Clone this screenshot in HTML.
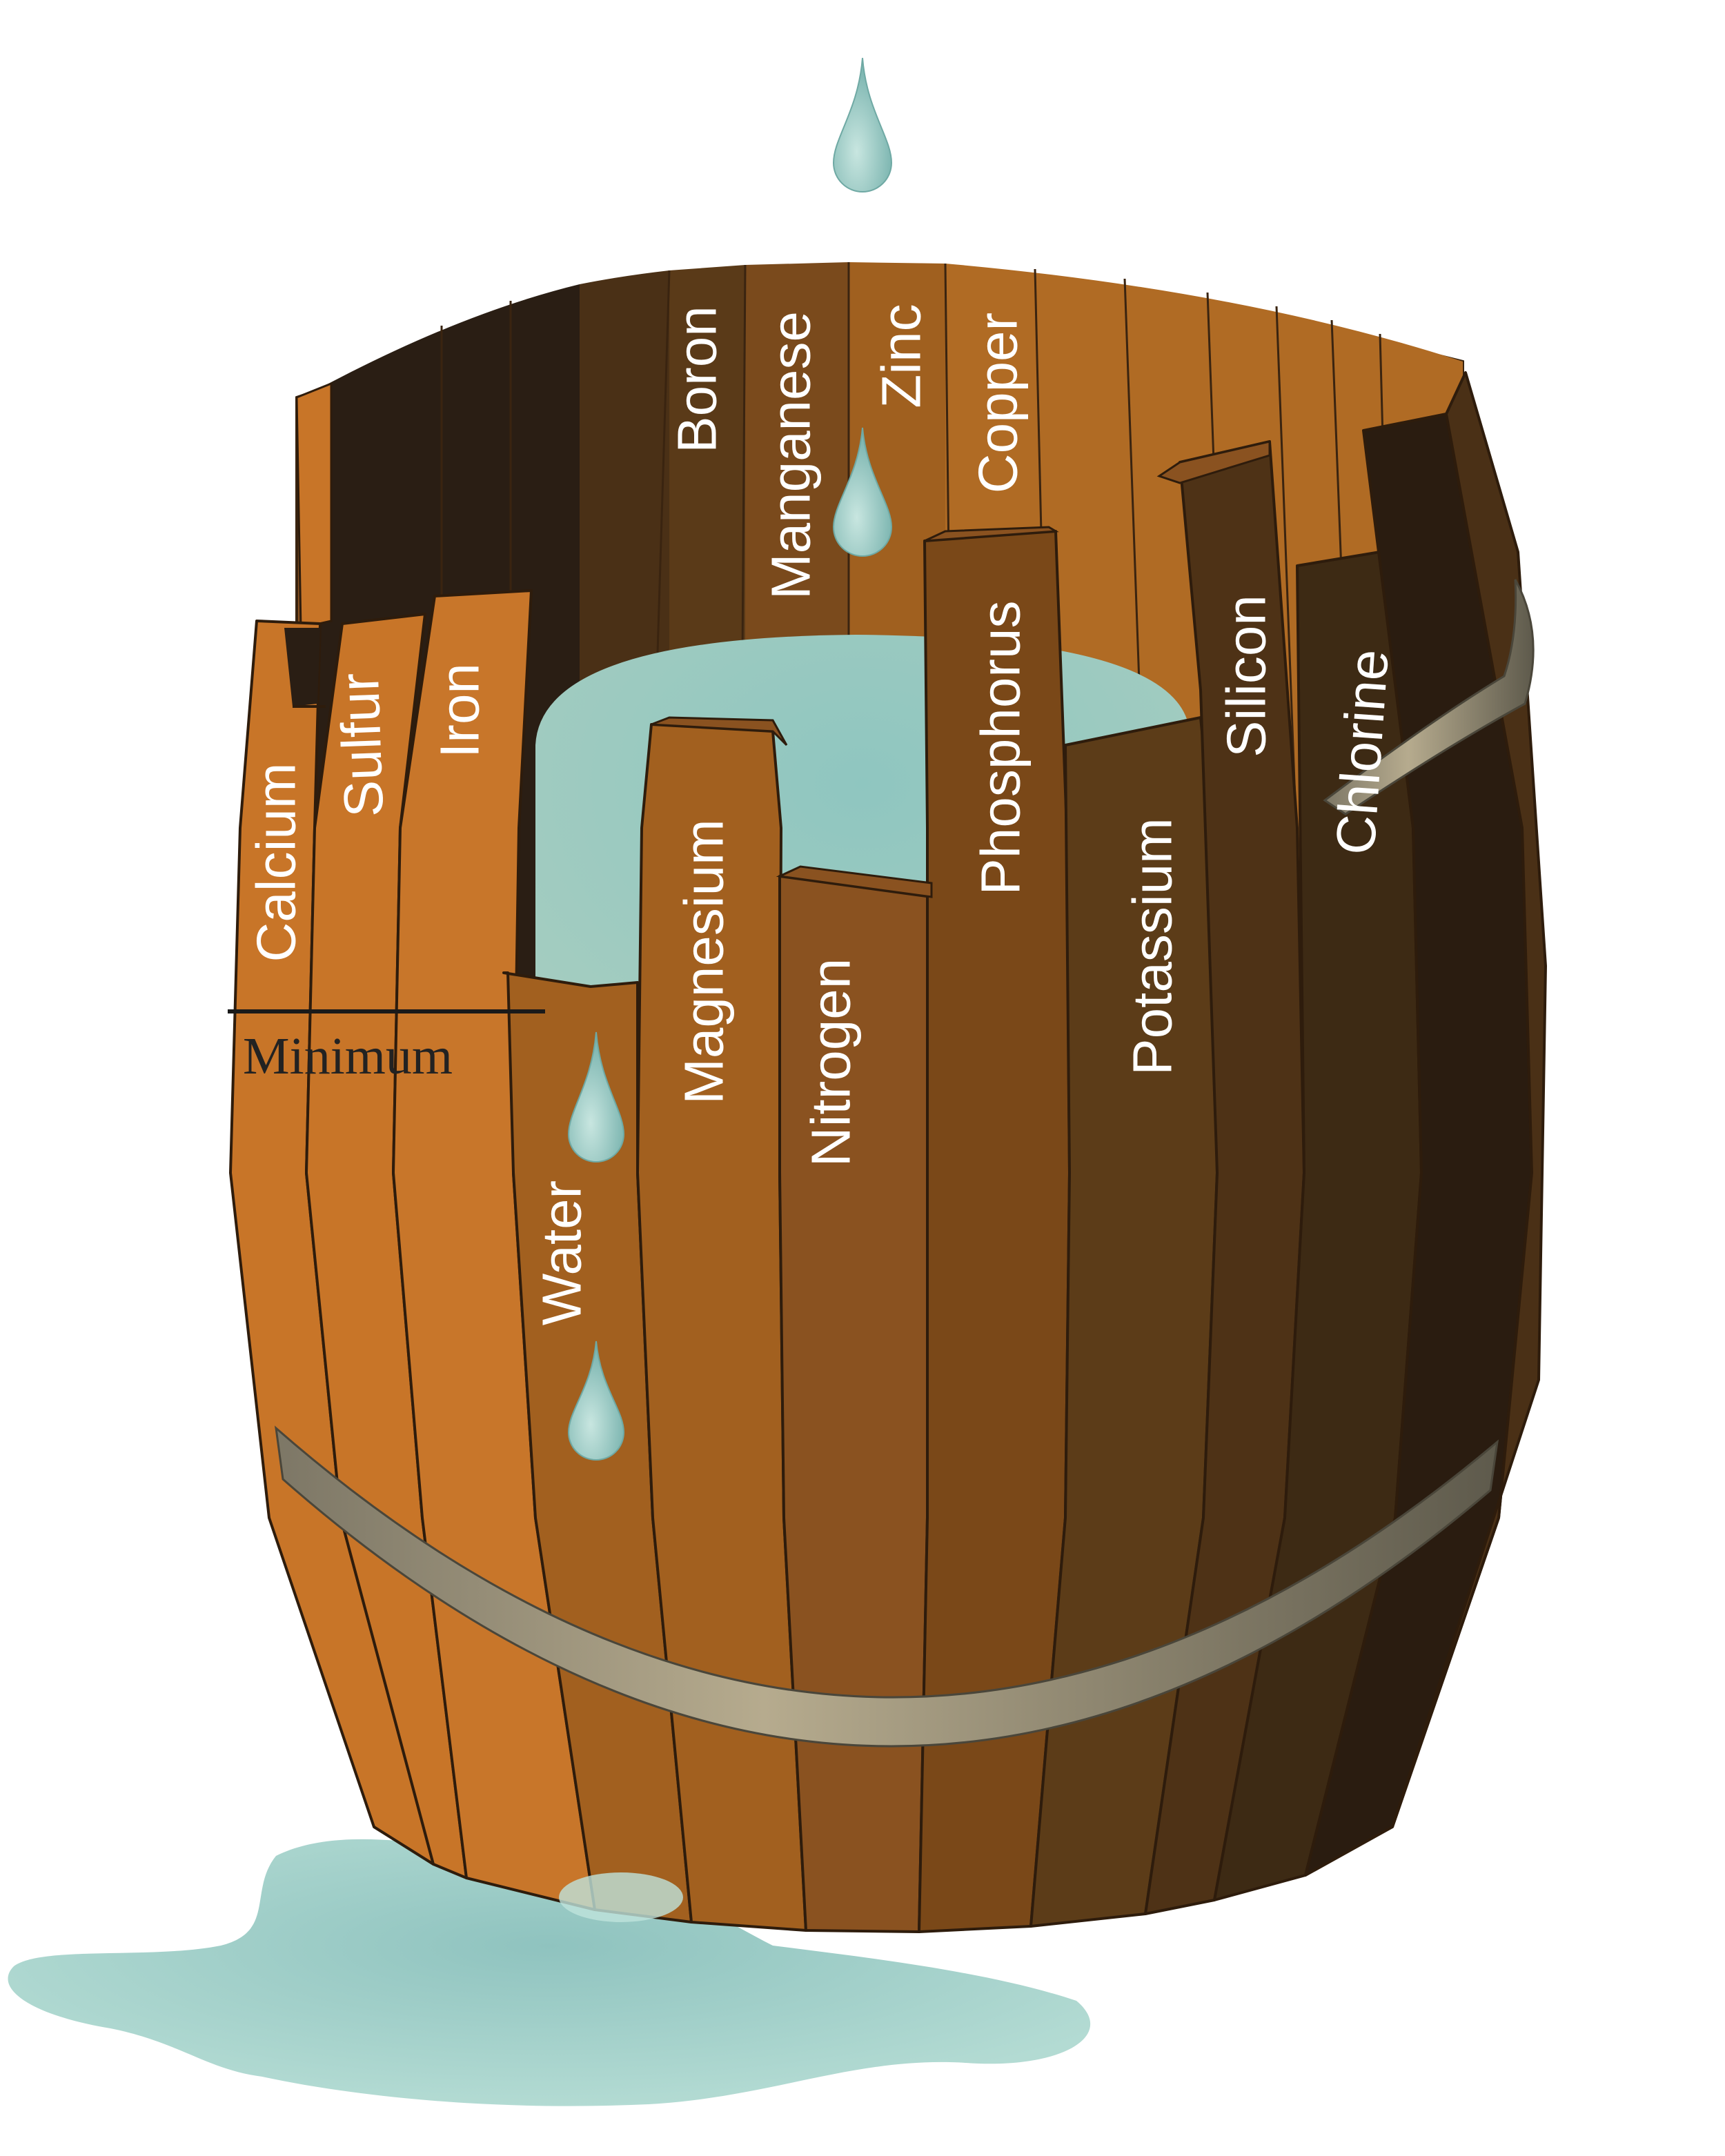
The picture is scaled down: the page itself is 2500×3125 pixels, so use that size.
<!DOCTYPE html>
<html><head><meta charset="utf-8"><style>
html,body{margin:0;padding:0;background:#fff;}
svg{display:block;}
.l{font-family:"Liberation Sans","DejaVu Sans",sans-serif;font-size:40px;fill:#fff;text-anchor:middle;dominant-baseline:central;}
</style></head><body>
<svg width="2500" height="3125" viewBox="0 0 1250 1562.5" xmlns="http://www.w3.org/2000/svg">
<defs>
<radialGradient id="pud" cx="0.5" cy="0.4" r="0.6"><stop offset="0" stop-color="#8fc3bf"/><stop offset="1" stop-color="#b3dbd3"/></radialGradient>
<linearGradient id="hoop" x1="0" x2="1"><stop offset="0" stop-color="#7d7766"/><stop offset="0.4" stop-color="#b6ab8e"/><stop offset="1" stop-color="#5e5a4c"/></linearGradient>
<radialGradient id="drop" cx="0.4" cy="0.7" r="0.6"><stop offset="0" stop-color="#c8e6e0"/><stop offset="1" stop-color="#7fb7b2"/></radialGradient>
<radialGradient id="wat" cx="0.5" cy="0.3" r="0.7"><stop offset="0" stop-color="#8fc6c0"/><stop offset="1" stop-color="#a6cdc0"/></radialGradient>
</defs>
<!-- puddle -->
<path d="M200,1345 C250,1320 330,1340 400,1350 C480,1360 520,1390 560,1410 C640,1420 720,1430 780,1450 C810,1475 770,1500 700,1495 C620,1490 560,1520 470,1525 C360,1530 260,1520 190,1505 C150,1500 130,1480 80,1470 C20,1460 -5,1440 10,1425 C30,1410 110,1420 160,1410 C200,1400 180,1370 200,1345 Z" fill="url(#pud)"/>
<!-- back wall -->
<path d="M215,288 Q620,150 1060,262 L1060,900 L215,900 Z" fill="#8a5220" stroke="#3a2410" stroke-width="2"/>
<path d="M225,285 Q330,228 420,206 L420,900 L225,900 Z" fill="#2a1e14"/>
<path d="M420,206 Q450,200 485,196 L485,900 L420,900 Z" fill="#4a3016"/>
<path d="M485,196 L540,192 L540,900 L485,900 Z" fill="#5a3a18"/>
<path d="M540,192 L615,190 L615,900 L540,900 Z" fill="#7a4a1c"/>
<path d="M615,190 L685,191 L685,900 L615,900 Z" fill="#a0601f"/>
<path d="M685,191 Q900,210 1060,262 L1060,900 L685,900 Z" fill="#b06b24"/>
<g stroke="#3a2410" stroke-width="1.5">
<line x1="320" y1="236" x2="320" y2="620"/><line x1="370" y1="218" x2="370" y2="620"/>
<line x1="485" y1="196" x2="472" y2="620"/><line x1="540" y1="192" x2="537" y2="620"/>
<line x1="615" y1="190" x2="615" y2="620"/><line x1="685" y1="191" x2="690" y2="620"/>
<line x1="750" y1="195" x2="760" y2="620"/><line x1="815" y1="202" x2="830" y2="620"/>
<line x1="875" y1="212" x2="890" y2="620"/><line x1="925" y1="222" x2="940" y2="620"/>
<line x1="965" y1="232" x2="980" y2="620"/><line x1="1000" y1="242" x2="1010" y2="620"/>
</g>
<!-- water -->
<path d="M388,540 Q392,462 620,460 Q855,462 862,530 L862,820 L388,820 Z" fill="url(#wat)"/>
<!-- left rim stave -->
<polygon points="215,288 240,278 240,450 218,455" fill="#c87528" stroke="#2e1c0c" stroke-width="1.5"/>
<!-- front staves -->
<g stroke="#2e1c0c" stroke-width="2" stroke-linejoin="round">
<polygon points="186,450 174,600 167,850 195,1100 271,1324 314,1351 247,1100 222,850 228,600 232,452" fill="#c87528"/>
<polygon points="206,455 232,455 230,510 212,512" fill="#2a1e14" stroke="none"/>
<polyline points="212,512 236,512" fill="none"/>
<polygon points="248,452 228,600 222,850 247,1100 314,1351 338,1361 306,1100 285,850 290,600 308,445" fill="#c87528"/>
<polygon points="315,432 290,600 285,850 306,1100 338,1361 431,1384 388,1100 372,850 376,600 385,428" fill="#c8762a"/>
<polygon points="365,705 428,715 462,712 462,850 473,1100 501,1393 431,1384 388,1100 372,850 368,705" fill="#a2601f"/>
<polygon points="472,525 465,600 462,850 473,1100 501,1393 584,1399 568,1100 565,850 566,600 560,530" fill="#a2601f"/>
<polygon points="565,635 565,850 568,1100 584,1399 666,1400 672,1100 672,850 675,650" fill="#8a5220"/>
<polygon points="670,392 672,600 672,850 672,1100 666,1400 747,1396 772,1100 775,850 773,600 765,385" fill="#7a4818"/>
<polygon points="772,540 775,850 772,1100 747,1396 830,1387 872,1100 882,850 878,600 870,520" fill="#5c3c18"/>
<polygon points="855,335 870,500 882,850 872,1100 830,1387 880,1377 931,1100 945,850 940,600 920,320" fill="#4e3216"/>
<polygon points="940,410 945,850 931,1100 880,1377 946,1359 1011,1100 1030,850 1024,600 1000,400" fill="#3d2a14"/>
<polygon points="988,312 1024,600 1030,850 1011,1100 946,1359 1009,1324 1086,1100 1110,850 1103,600 1048,300" fill="#2a1c10"/>
<polygon points="1048,300 1062,270 1100,400 1120,700 1115,1000 1009,1324 1086,1100 1110,850 1103,600" fill="#4a3016"/>
</g>
<!-- stave top faces -->
<g fill="#8a5220" stroke="#2e1c0c" stroke-width="1.5">
<polygon points="472,525 485,520 560,522 570,540 560,530"/>
<polygon points="670,392 685,385 760,382 765,385"/>
<polygon points="855,335 840,345 855,350 920,330 920,320"/>
<polygon points="565,635 580,628 675,640 675,650"/>
</g>
<!-- hoops -->
<path d="M1098,420 Q1120,460 1105,510 Q1050,540 975,590 L960,580 Q1040,520 1090,490 Q1100,460 1098,420 Z" fill="url(#hoop)" stroke="#4a463a" stroke-width="1.5"/>
<path d="M200,1035 Q640,1420 1085,1045 L1080,1080 Q640,1455 205,1072 Z" fill="url(#hoop)" stroke="#4a463a" stroke-width="1.5"/>
<!-- splash -->
<ellipse cx="450" cy="1375" rx="45" ry="18" fill="#bfe3dc" opacity="0.8"/>
<!-- drops -->
<g fill="url(#drop)" stroke="#6fa9a4" stroke-width="1">
<path d="M625,42 C628,80 646,100 646,118 A21,21 0 0 1 604,118 C604,100 622,80 625,42 Z"/>
<path d="M625,310 C628,345 646,365 646,382 A21,21 0 0 1 604,382 C604,365 622,345 625,310 Z"/>
<path d="M432,748 C435,785 452,805 452,822 A20,20 0 0 1 412,822 C412,805 429,785 432,748 Z"/>
<path d="M432,972 C435,1005 452,1022 452,1038 A20,20 0 0 1 412,1038 C412,1022 429,1005 432,972 Z"/>
</g>
<!-- minimum -->
<line x1="165" y1="733" x2="395" y2="733" stroke="#1a1a1a" stroke-width="3"/>
<text x="176" y="778" font-family="Liberation Serif,serif" font-size="38" fill="#222">Minimum</text>
<!-- labels -->
<g class="l">
<text transform="translate(505,275) rotate(-90)" class="l">Boron</text>
<text transform="translate(573,330) rotate(-90)" class="l">Manganese</text>
<text transform="translate(653,258) rotate(-90)" class="l">Zinc</text>
<text transform="translate(723,292) rotate(-90)" class="l">Copper</text>
<text transform="translate(200,625) rotate(-90)" class="l">Calcium</text>
<text transform="translate(262,540) rotate(-92)" class="l">Sulfur</text>
<text transform="translate(333,515) rotate(-90)" class="l">Iron</text>
<text transform="translate(510,697) rotate(-90)" class="l">Magnesium</text>
<text transform="translate(602,770) rotate(-90)" class="l">Nitrogen</text>
<text transform="translate(725,542) rotate(-90)" class="l">Phosphorus</text>
<text transform="translate(835,686) rotate(-90)" class="l">Potassium</text>
<text transform="translate(903,490) rotate(-90)" class="l">Silicon</text>
<text transform="translate(987,545) rotate(-86)" class="l">Chlorine</text>
<text transform="translate(407,908) rotate(-90)" class="l">Water</text>
</g>
</svg>
</body></html>
